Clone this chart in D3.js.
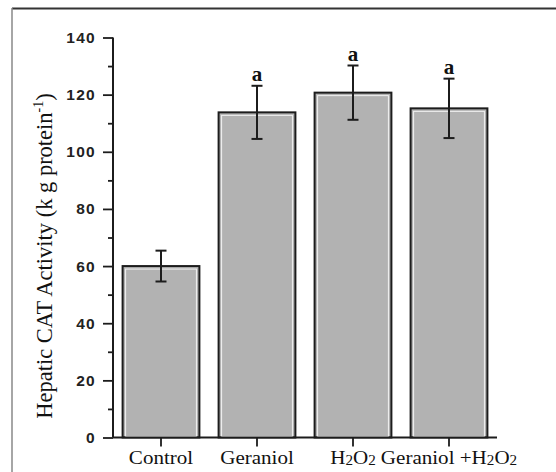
<!DOCTYPE html>
<html>
<head>
<meta charset="utf-8">
<script src="https://cdn.jsdelivr.net/npm/d3@7"></script>
<style>
  html, body { margin: 0; padding: 0; background: #fff; }
  svg { display: block; }
</style>
</head>
<body>
<script>
// ---- data ----
const categories = ["Control", "Geraniol", "H2O2", "Geraniol +H2O2"];
const means = [60, 113.8, 120.7, 115.2];
const errors = [5.4, 9.3, 9.5, 10.4];
const sigLetters = ["", "a", "a", "a"];
const yTicks = [0, 20, 40, 60, 80, 100, 120, 140];
const yMinorTicks = [10, 30, 50, 70, 90, 110, 130];

const W = 556, H = 472;
const svg = d3.select("body").append("svg").attr("width", W).attr("height", H);

// frame
svg.append("line").attr("x1", 12).attr("x2", W).attr("y1", 8.5).attr("y2", 8.5)
  .attr("stroke", "#333").attr("stroke-width", 2);
svg.append("line").attr("x1", 12).attr("x2", 12).attr("y1", 8).attr("y2", H)
  .attr("stroke", "#888").attr("stroke-width", 1.5);

const x = d3.scaleBand().domain(categories).range([113, 497]).paddingInner(0.2).paddingOuter(0.1);
const y = d3.scaleLinear().domain([0, 140]).range([437.5, 37.5]);

// bars
const bars = svg.append("g");
categories.forEach((c, i) => {
  const x0 = x(c), bw = x.bandwidth();
  const top = y(means[i]), bot = y(0);
  bars.append("rect").attr("x", x0).attr("y", top).attr("width", bw).attr("height", bot - top)
    .attr("fill", "#b2b2b2").attr("stroke", "#1c1c1c").attr("stroke-width", 2);
  bars.append("rect").attr("x", x0 + 3).attr("y", top + 3).attr("width", bw - 6).attr("height", bot - top - 4)
    .attr("fill", "none").attr("stroke", "#f2f2f2").attr("stroke-width", 1);
});

// error bars
const eb = svg.append("g").attr("stroke", "#1c1c1c").attr("stroke-width", 2);
categories.forEach((c, i) => {
  const cx = x(c) + x.bandwidth() / 2;
  const yt = y(means[i] + errors[i]), yb = y(means[i] - errors[i]);
  eb.append("line").attr("x1", cx).attr("x2", cx).attr("y1", yt).attr("y2", yb);
  eb.append("line").attr("x1", cx - 5.5).attr("x2", cx + 5.5).attr("y1", yt).attr("y2", yt);
  eb.append("line").attr("x1", cx - 5.5).attr("x2", cx + 5.5).attr("y1", yb).attr("y2", yb);
  if (sigLetters[i]) {
    svg.append("text").attr("x", cx).attr("y", yt - 5)
      .attr("text-anchor", "middle")
      .attr("font-family", "'Liberation Serif', 'Times New Roman', serif")
      .attr("font-weight", "bold").attr("font-size", 21)
      .attr("fill", "#111").text(sigLetters[i]);
  }
});

// y axis
const yAxis = d3.axisLeft(y).tickValues(yTicks).tickSize(10).tickPadding(7).tickFormat(d3.format("d"));
const gy = svg.append("g").attr("transform", "translate(113,0)").call(yAxis);
gy.select(".domain").attr("stroke", "#1c1c1c").attr("stroke-width", 2).attr("d", "M0,37.5V437.5");
gy.selectAll(".tick line").attr("stroke", "#1c1c1c").attr("stroke-width", 1.8);
gy.selectAll(".tick text")
  .attr("font-family", "'Liberation Sans', Arial, sans-serif")
  .attr("font-size", 15.5).attr("font-weight", "bold").attr("fill", "#222")
  .attr("letter-spacing", "1.3px");
const gym = svg.append("g").attr("transform", "translate(113,0)")
  .call(d3.axisLeft(y).tickValues(yMinorTicks).tickSize(5).tickFormat(""));
gym.select(".domain").remove();
gym.selectAll(".tick line").attr("stroke", "#1c1c1c").attr("stroke-width", 1.8);

// x axis
const gx = svg.append("g").attr("transform", "translate(0,437.5)")
  .call(d3.axisBottom(x).tickSize(9).tickFormat(""));
gx.select(".domain").attr("stroke", "#1c1c1c").attr("stroke-width", 2).attr("d", "M113,0H497");
gx.selectAll(".tick line").attr("stroke", "#1c1c1c").attr("stroke-width", 1.8);

// x labels with subscripts
const serif = "'Liberation Serif', 'Times New Roman', serif";
categories.forEach(c => {
  const cx = x(c) + x.bandwidth() / 2;
  const g = svg.append("g").attr("transform", `translate(${cx},463.5) scale(1.08,1)`);
  const t = g.append("text").attr("text-anchor", "middle")
    .attr("font-family", serif).attr("font-size", 19.5).attr("fill", "#111");
  const parts = c.split(/(H2O2)/).filter(s => s.length);
  parts.forEach(p => {
    if (p === "H2O2") {
      t.append("tspan").text("H");
      t.append("tspan").attr("font-size", 14).attr("dy", 1.5).text("2");
      t.append("tspan").attr("dy", -1.5).text("O");
      t.append("tspan").attr("font-size", 14).attr("dy", 1.5).text("2");
    } else {
      t.append("tspan").text(p);
    }
  });
});

// y title
const yt = svg.append("text")
  .attr("transform", "translate(52,256) rotate(-90)")
  .attr("text-anchor", "middle")
  .attr("font-family", serif).attr("font-size", 22.5).attr("fill", "#111");
yt.append("tspan").text("Hepatic CAT Activity (k g protein");
yt.append("tspan").attr("font-size", 14).attr("dy", -9).text("-1");
yt.append("tspan").attr("dy", 9).text(")");
</script>
</body>
</html>
